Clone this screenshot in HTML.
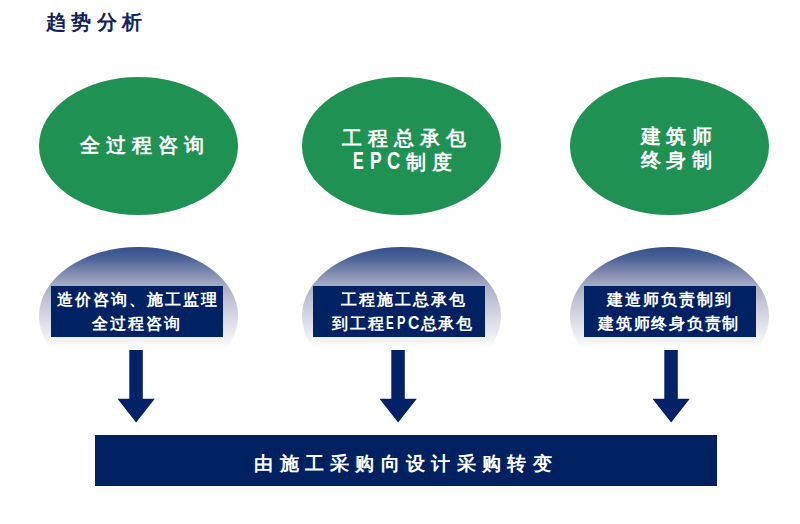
<!DOCTYPE html>
<html><head><meta charset="utf-8">
<style>
html,body{margin:0;padding:0;}
body{width:800px;height:524px;background:#fff;position:relative;overflow:hidden;font-family:"Liberation Sans",sans-serif;}
.a{position:absolute;}
.title{left:45.5px;top:8.8px;font-size:20px;font-weight:bold;color:#12225e;letter-spacing:5.6px;line-height:26px;white-space:nowrap;}
.ell{position:absolute;top:77px;width:199px;height:138px;border-radius:50%;background:#1f9253;}
.gel{position:absolute;top:247px;width:199px;height:138px;border-radius:50%;background:linear-gradient(to bottom,#33518c 0%,#4a6196 8%,#8590b2 20%,#abb0c8 29%,#c3c6d6 40%,#d8dae4 52%,#e9eaf0 62%,#ffffff 74%);}
.et{position:absolute;color:#fff;font-size:20px;font-weight:bold;letter-spacing:6px;line-height:24px;white-space:nowrap;}
.rect{position:absolute;top:286px;width:172px;height:51px;background:#002162;}
.rt{position:absolute;color:#fff;font-size:16px;font-weight:bold;letter-spacing:2px;line-height:23px;white-space:nowrap;}
.banner{position:absolute;left:95px;top:435px;width:622px;height:51px;background:#002160;}
.bt{position:absolute;color:#fff;font-size:19px;font-weight:bold;letter-spacing:6.3px;line-height:24px;white-space:nowrap;}
.ep{position:absolute;color:#fff;font-size:23px;font-weight:bold;line-height:24px;transform:scaleX(0.7);transform-origin:left top;}
.rep{position:absolute;top:312px;color:#fff;font-size:17.5px;font-weight:bold;line-height:23px;transform:scaleX(0.7);transform-origin:left top;}
svg{position:absolute;left:0;top:0;}
</style></head>
<body>
<div class="a title">趋势分析</div>

<div class="ell" style="left:39px"></div>
<div class="ell" style="left:302px"></div>
<div class="ell" style="left:570px"></div>

<div class="et" style="left:79.5px;top:132.5px">全过程咨询</div>
<div class="et" style="left:341.5px;top:126px">工程总承包</div>
<div class="et" style="left:406px;top:150px">制度</div>
<div class="ep" style="left:352.5px;top:149px">E</div><div class="ep" style="left:370px;top:149px;transform:scaleX(0.76)">P</div><div class="ep" style="left:387.2px;top:149px;transform:scaleX(0.8)">C</div>
<div class="et" style="left:640.5px;top:123.5px;letter-spacing:5.6px">建筑师</div>
<div class="et" style="left:640.5px;top:147.5px;letter-spacing:5.6px">终身制</div>

<div class="gel" style="left:39px"></div>
<div class="gel" style="left:302px"></div>
<div class="gel" style="left:570px"></div>

<div class="rect" style="left:51px"></div>
<div class="rect" style="left:313px"></div>
<div class="rect" style="left:584px"></div>

<div class="rt" style="left:57px;top:288px">造价咨询、施工监理</div>
<div class="rt" style="left:92px;top:312px">全过程咨询</div>
<div class="rt" style="left:341px;top:288px">工程施工总承包</div>
<div class="rt" style="left:332px;top:312px">到工程</div>
<div class="rep" style="left:385.7px;transform:scaleX(0.66)">E</div><div class="rep" style="left:396.7px;transform:scaleX(0.72)">P</div><div class="rep" style="left:408px;transform:scaleX(0.9)">C</div>
<div class="rt" style="left:420.5px;top:312px;letter-spacing:1.6px">总承包</div>
<div class="rt" style="left:607px;top:288px">建造师负责制到</div>
<div class="rt" style="left:598px;top:312px;letter-spacing:1.75px">建筑师终身负责制</div>

<svg width="800" height="524" viewBox="0 0 800 524">
<polygon fill="#022167" points="129.3,350 142.8,350 142.8,398.7 154.8,398.7 136.1,422.4 117.5,398.7 129.3,398.7"/>
<polygon fill="#022167" points="391.3,350 404.8,350 404.8,398.7 416.8,398.7 398.1,422.4 379.5,398.7 391.3,398.7"/>
<polygon fill="#022167" points="664.3,350 677.8,350 677.8,398.7 689.8,398.7 671.1,422.4 652.5,398.7 664.3,398.7"/>
</svg>

<div class="banner"></div>
<div class="bt" style="left:254.3px;top:451.7px">由施工采购向设计采购转变</div>
</body></html>
